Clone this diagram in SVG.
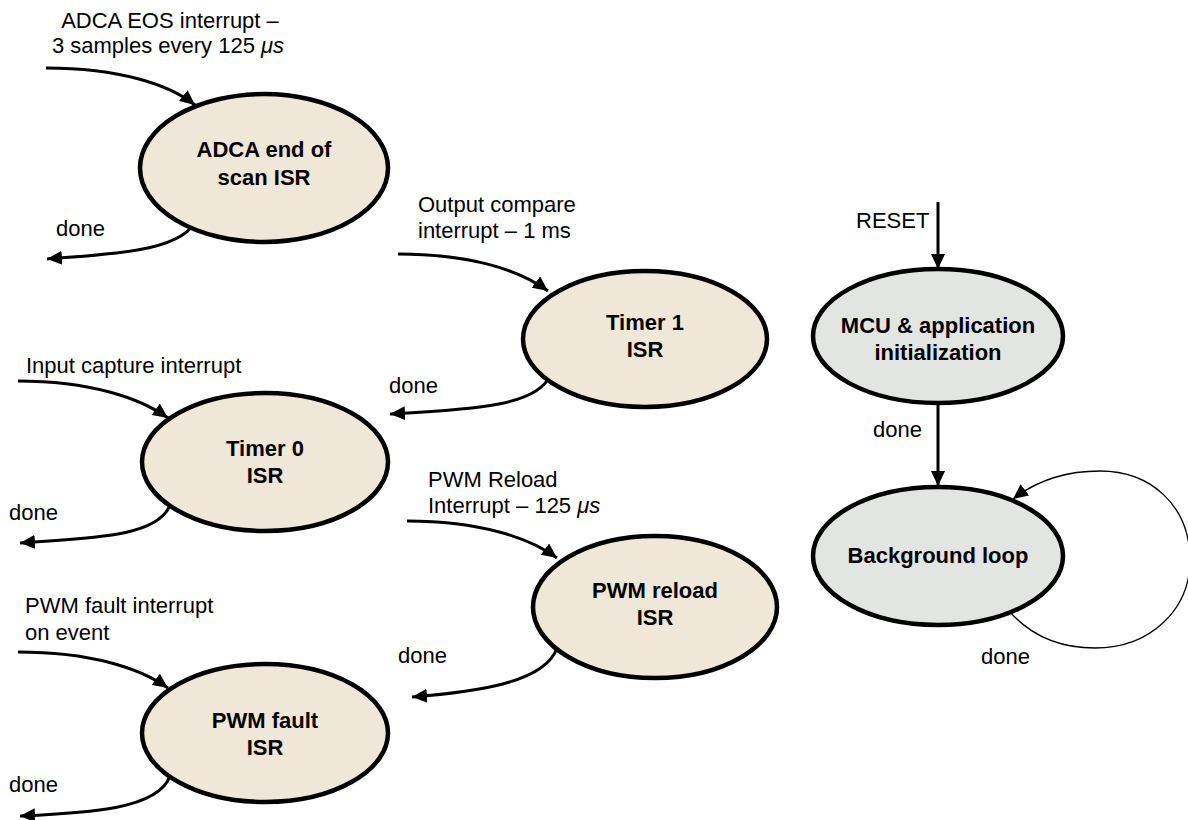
<svg xmlns="http://www.w3.org/2000/svg" width="1188" height="820" viewBox="0 0 1188 820">
  <style>
    text { font-family: "Liberation Sans", Arial, sans-serif; font-size: 22px; fill: #000; }
    .b { font-weight: bold; text-anchor: middle; }
    .isr { fill: #EFE7D7; stroke: #000; stroke-width: 4.5; }
    .sys { fill: #E2E5E1; stroke: #000; stroke-width: 4.5; }
    .c { fill: none; stroke: #000; stroke-width: 3; marker-end: url(#ah); }
    .thin { fill: none; stroke: #000; stroke-width: 1.3; marker-end: url(#ah); }
    .mu { font-style: italic; }
  </style>
  <defs>
    <marker id="ah" markerUnits="userSpaceOnUse" markerWidth="16" markerHeight="14" refX="15" refY="7" orient="auto">
      <path d="M0,0 L15,7 L0,14 z" fill="#000"/>
    </marker>
  </defs>

  <g id="connectors">
    <path class="c" d="M46,68 C120,68 170,85 195,105"/>
    <path class="c" d="M197,218 C185,252 110,254 47,259"/>
    <path class="c" d="M398,254 C470,254 520,270 548,291"/>
    <path class="c" d="M550,375 C538,408 460,410 390,414"/>
    <path class="c" d="M18,381 C90,381 140,398 168,418"/>
    <path class="c" d="M170,505 C158,538 85,538 20,543"/>
    <path class="c" d="M407,521 C480,521 530,538 557,558"/>
    <path class="c" d="M557,648 C545,683 475,692 412,697"/>
    <path class="c" d="M18,652 C90,652 140,668 168,688"/>
    <path class="c" d="M170,776 C158,810 85,813 20,816"/>
    <path class="c" d="M938,202 L938,269"/>
    <path class="c" d="M938,403 L938,486"/>
    <path class="thin" d="M1010,612 C1035,640 1065,648 1095,648 C1150,648 1190,610 1190,560 C1190,505 1150,471 1100,471 C1065,471 1035,482 1013,499"/>
  </g>

  <g id="labels">
    <text x="170" y="28" text-anchor="middle">ADCA EOS interrupt –</text>
    <text x="168" y="53" text-anchor="middle">3 samples every 125 <tspan class="mu">μs</tspan></text>
    <text x="56" y="236">done</text>
    <text x="418" y="212">Output compare</text>
    <text x="418" y="238">interrupt – 1 ms</text>
    <text x="389" y="393">done</text>
    <text x="26" y="373">Input capture interrupt</text>
    <text x="9" y="520">done</text>
    <text x="428" y="487">PWM Reload</text>
    <text x="428" y="513">Interrupt – 125 <tspan class="mu">μs</tspan></text>
    <text x="398" y="663">done</text>
    <text x="25" y="613">PWM fault interrupt</text>
    <text x="25" y="640">on event</text>
    <text x="9" y="792">done</text>
    <text x="856" y="228">RESET</text>
    <text x="873" y="437">done</text>
    <text x="981" y="664">done</text>
  </g>

  <g id="adca-isr">
    <ellipse class="isr" cx="264" cy="168" rx="124" ry="74"/>
    <text class="b" x="264" y="157">ADCA end of</text>
    <text class="b" x="264" y="185">scan ISR</text>
  </g>
  <g id="timer1-isr">
    <ellipse class="isr" cx="645" cy="339" rx="122" ry="68"/>
    <text class="b" x="645" y="330">Timer 1</text>
    <text class="b" x="645" y="357">ISR</text>
  </g>
  <g id="timer0-isr">
    <ellipse class="isr" cx="265" cy="462" rx="123" ry="69"/>
    <text class="b" x="265" y="456">Timer 0</text>
    <text class="b" x="265" y="483">ISR</text>
  </g>
  <g id="pwm-reload-isr">
    <ellipse class="isr" cx="655" cy="607" rx="122" ry="71"/>
    <text class="b" x="655" y="598">PWM reload</text>
    <text class="b" x="655" y="625">ISR</text>
  </g>
  <g id="pwm-fault-isr">
    <ellipse class="isr" cx="265" cy="733" rx="123" ry="69"/>
    <text class="b" x="265" y="728">PWM fault</text>
    <text class="b" x="265" y="755">ISR</text>
  </g>
  <g id="mcu-init">
    <ellipse class="sys" cx="938" cy="336" rx="125" ry="67"/>
    <text class="b" x="938" y="333">MCU &amp; application</text>
    <text class="b" x="938" y="360">initialization</text>
  </g>
  <g id="background-loop">
    <ellipse class="sys" cx="938" cy="556" rx="125" ry="69"/>
    <text class="b" x="938" y="563">Background loop</text>
  </g>
</svg>
